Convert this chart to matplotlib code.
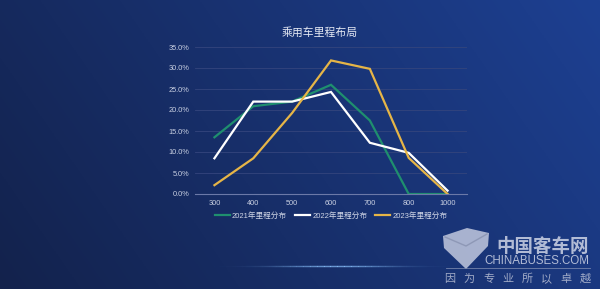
import numpy as np
import matplotlib
matplotlib.use("Agg")
import matplotlib.pyplot as plt
from matplotlib.patches import Polygon

plt.rcParams['font.family'] = ['Liberation Sans', 'Noto Sans CJK SC', 'DejaVu Sans']

title = "乘用车里程布局"
categories = ["300", "400", "500", "600", "700", "800", "1000"]
series_names = ["2021年里程分布", "2022年里程分布", "2023年里程分布"]
s2021 = [13.5, 20.9, 22.0, 26.0, 17.5, 0.0, 0.0]
s2022 = [8.5, 22.0, 22.0, 24.3, 12.2, 9.8, 0.8]
s2023 = [2.1, 8.5, 19.3, 31.8, 29.8, 8.6, 0.0]
yticks = [0, 5, 10, 15, 20, 25, 30, 35]
colors = ["#1f8f6e", "#ffffff", "#e6b547"]
slogan = "因为专业所以卓越"

W, H = 600, 289
fig = plt.figure(figsize=(6, 2.89), dpi=100)

# background gradient
bg = fig.add_axes([0, 0, 1, 1])
bg.set_axis_off()
xx = np.linspace(0, 1, 300)
yy = np.linspace(0, 1, 150)
X, Y = np.meshgrid(xx, yy)
t = np.clip(0.75 * X + 0.25 * (1 - Y), 0, 1)
c0 = np.array([0x13, 0x22, 0x4c]) / 255
c1 = np.array([0x1d, 0x40, 0x92]) / 255
img = c0[None, None, :] * (1 - t[..., None]) + c1[None, None, :] * t[..., None]
bg.imshow(img, extent=[0, W, H, 0], aspect='auto', origin='upper')
bg.set_xlim(0, W)
bg.set_ylim(H, 0)

# glowing line near bottom
gx = np.linspace(170, 450, 240)
ga = np.exp(-((gx - 335) / 55) ** 2)
for i in range(len(gx) - 1):
    bg.plot(gx[i:i + 2], [266, 266], color="#8cc4ff", alpha=float(ga[i]) * 0.9, lw=1.0,
            solid_capstyle='butt')

# watermark
bg.add_patch(Polygon([[443, 236], [467, 228], [489, 233], [488, 246], [466, 269], [444, 248]],
                     closed=True, facecolor="#b9c1d9", edgecolor="none", alpha=0.9))
bg.plot([445, 466, 487], [237, 246, 234], color="#8e98b6", lw=1.0)
bg.text(589, 247, "中国客车网", ha='right', va='center', fontsize=13.3, color="#c4cbe0",
        family=['Noto Sans CJK SC'], fontweight='bold', alpha=0.9)
bg.text(589, 261, "CHINABUSES.COM", ha='right', va='center', fontsize=8.3, color="#c4cbe0", alpha=0.9)
bg.plot([446, 590], [268, 268], color="#8a96b8", lw=0.6, alpha=0.8)
for i, ch in enumerate(slogan):
    bg.text(450 + i * (135 / (len(slogan) - 1)), 279, ch, ha='center', va='center', fontsize=8,
            color="#b0b8d0", family=['Noto Sans CJK SC'], alpha=0.9)

# chart
ax = fig.add_axes([195 / W, 1 - 194 / H, 272 / W, 147 / H])
ax.set_facecolor('none')
x = np.arange(len(categories))
handles = []
for vals, name, col in zip([s2021, s2022, s2023], series_names, colors):
    h, = ax.plot(x, vals, color=col, lw=1.6, label=name, solid_joinstyle='miter')
    handles.append(h)

ax.set_xlim(-0.5, len(categories) - 0.5)
ax.set_ylim(0, 35)
ax.set_yticks(yticks)
ax.set_yticklabels([f"{v:.1f}%" for v in yticks])
ax.set_xticks(x)
ax.set_xticklabels(categories)
ax.tick_params(axis='both', length=0, labelsize=5.3, colors="#c9d0e2")
ax.tick_params(axis='y', pad=4)
ax.tick_params(axis='x', pad=4.5)
ax.grid(axis='y', color="#34457d", lw=0.6)
ax.set_axisbelow(True)
for s in ['top', 'right', 'left']:
    ax.spines[s].set_visible(False)
ax.spines['bottom'].set_color("#6b79a8")
ax.spines['bottom'].set_linewidth(0.8)

fig.text(320 / W, 1 - 32 / H, title, ha='center', va='center', fontsize=7.8,
         color="#e6eaf4", family=['Noto Sans CJK SC'])

leg = ax.legend(handles=handles, loc='center', bbox_to_anchor=(0.5, -22 / 147), ncol=3,
                frameon=False, fontsize=5.5, handlelength=2.0, handletextpad=0.3,
                columnspacing=1.0, labelcolor="#d0d6e6")

fig.savefig("out.png", dpi=100)
